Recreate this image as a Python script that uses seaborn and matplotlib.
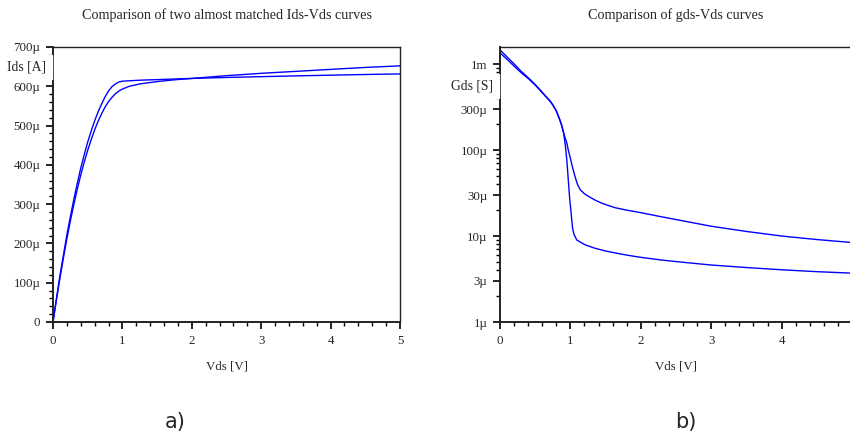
import numpy as np
import pandas as pd
import matplotlib
matplotlib.use("Agg")
import matplotlib.pyplot as plt
import seaborn as sns
from matplotlib.ticker import FixedLocator, MultipleLocator, NullFormatter

# ---- data ----
vds_ids = [0, 0.05, 0.1, 0.15, 0.2, 0.25, 0.3, 0.35, 0.4, 0.45, 0.5, 0.55, 0.6, 0.65,
           0.7, 0.75, 0.8, 0.85, 0.9, 0.95, 1.0, 1.1, 1.25, 1.5, 1.75, 2.0, 2.5,
           3.0, 3.5, 4.0, 4.5, 5.0]
ids_a = [0, 60, 118, 170, 222, 268, 312, 353, 392, 426, 458, 486, 512, 535,
         555, 573, 588, 599, 606, 611, 613, 614, 615.5, 617, 618.5, 620, 622.5,
         624.5, 626.5, 628.3, 630, 631.5]  # uA
ids_b = [0, 57, 112, 163, 212, 257, 299, 338, 374, 407, 437, 464, 489, 511,
         530, 547, 561, 572, 581, 588, 593, 600, 606, 612, 616.5, 620, 627,
         633, 638, 643, 648, 652]  # uA

vds_gds_a = [0, 0.1, 0.21, 0.3, 0.4, 0.5, 0.6, 0.64, 0.7, 0.75, 0.8, 0.85, 0.875,
             0.9, 0.92, 0.935, 0.95, 0.97, 0.99, 1.01, 1.03, 1.05, 1.09, 1.15,
             1.21, 1.35, 1.5, 1.64, 1.8, 2.0, 2.3, 2.6, 3.0, 3.5, 4.0, 4.5, 5.0]
gds_a = [1460, 1210, 985, 825, 695, 578, 470, 430, 382, 336, 285, 224, 195,
         163, 128, 100, 75, 45, 27, 18.5, 12.5, 10.5, 9.0, 8.4,
         7.9, 7.2, 6.7, 6.35, 6.0, 5.65, 5.25, 4.95, 4.6, 4.3, 4.05, 3.85, 3.7]  # uS
vds_gds_b = [0, 0.1, 0.21, 0.3, 0.4, 0.5, 0.6, 0.64, 0.7, 0.75, 0.8, 0.85, 0.875,
             0.9, 0.92, 0.95, 0.97, 1.0, 1.03, 1.06, 1.08, 1.1, 1.14, 1.2, 1.26,
             1.35, 1.42, 1.5, 1.64, 1.8, 2.0, 2.3, 2.6, 3.0, 3.5, 4.0, 4.5, 5.0]
gds_b = [1350, 1135, 930, 795, 680, 570, 465, 428, 380, 335, 285, 224, 195,
         163, 143, 120, 100, 80, 63, 51, 45, 40, 34.5, 31, 28.8,
         26.2, 24.6, 23.2, 21.3, 20.0, 18.7, 16.7, 15.0, 13.0, 11.3, 10.0, 9.1, 8.4]  # uS

ids_ticks = [0, 100, 200, 300, 400, 500, 600, 700]
ids_labels = ["0", "100µ", "200µ", "300µ", "400µ", "500µ", "600µ", "700µ"]
gds_ticks = [1, 3, 10, 30, 100, 300, 1000]
gds_labels = ["1µ", "3µ", "10µ", "30µ", "100µ", "300µ", "1m"]
x_ticks = [0, 1, 2, 3, 4, 5]

# ---- style ----
sns.set_style("ticks")
plt.rcParams["font.family"] = ["Liberation Serif", "DejaVu Serif"]
plt.rcParams["xtick.direction"] = "out"
plt.rcParams["ytick.direction"] = "out"

W, H = 850, 441
fig = plt.figure(figsize=(W / 100, H / 100), dpi=100)

def pos(x0, x1, ytop, ybot):
    return [x0 / W, (H - ybot) / H, (x1 - x0) / W, (ybot - ytop) / H]

axL = fig.add_axes(pos(53, 400, 47, 322))
axR = fig.add_axes(pos(500, 852, 47, 322))

blue = "#0000ff"
dfa = pd.DataFrame({"Vds": vds_ids, "Ids": np.array(ids_a) * 1e-6})
dfb = pd.DataFrame({"Vds": vds_ids, "Ids": np.array(ids_b) * 1e-6})
sns.lineplot(data=dfa, x="Vds", y="Ids", ax=axL, color=blue, lw=1.0, sort=False)
sns.lineplot(data=dfb, x="Vds", y="Ids", ax=axL, color=blue, lw=1.0, sort=False)

dga = pd.DataFrame({"Vds": vds_gds_a, "Gds": np.array(gds_a) * 1e-6})
dgb = pd.DataFrame({"Vds": vds_gds_b, "Gds": np.array(gds_b) * 1e-6})
sns.lineplot(data=dga, x="Vds", y="Gds", ax=axR, color=blue, lw=1.0, sort=False)
sns.lineplot(data=dgb, x="Vds", y="Gds", ax=axR, color=blue, lw=1.0, sort=False)

tick_fs = 9.3
for ax in (axL, axR):
    ax.set_xlim(0, 5)
    ax.set_xticks(x_ticks)
    ax.set_xticklabels([str(t) for t in x_ticks], fontsize=tick_fs)
    ax.xaxis.set_minor_locator(MultipleLocator(0.2))
    ax.tick_params(which="major", length=5, width=1.2, color="black", pad=4)
    ax.tick_params(which="minor", length=3, width=1.0, color="black")
    ax.set_xlabel("Vds [V]", fontsize=9.3, labelpad=10)
    ax.set_ylabel("")
    for s in ax.spines.values():
        s.set_color("#222222")
        s.set_linewidth(1.0)
    ax.spines["left"].set_linewidth(1.4)
    ax.spines["bottom"].set_linewidth(1.4)

# left axes
axL.set_ylim(0, 700e-6)
axL.set_yticks(np.array(ids_ticks) * 1e-6)
axL.set_yticklabels(ids_labels, fontsize=tick_fs)
axL.yaxis.set_minor_locator(MultipleLocator(20e-6))
axL.set_title("Comparison of two almost matched Ids-Vds curves", fontsize=10.2, pad=20)
axL.text(-0.02, 650e-6, "Ids [A]", transform=axL.get_yaxis_transform(),
         ha="right", va="center", fontsize=9.8, backgroundcolor="white")

# right axes
axR.set_yscale("log")
axR.set_ylim(1e-6, 1.58e-3)
axR.yaxis.set_major_locator(FixedLocator(np.array(gds_ticks) * 1e-6))
axR.set_yticklabels(gds_labels, fontsize=tick_fs)
minors = [m * 10.0 ** k for k in range(-6, -2) for m in (2, 4, 5, 6, 7, 8, 9)]
axR.yaxis.set_minor_locator(FixedLocator(minors))
axR.yaxis.set_minor_formatter(NullFormatter())
axR.set_title("Comparison of gds-Vds curves", fontsize=10.2, pad=20)
axR.text(-0.02, 10 ** (-6 + (322 - 86) / 86), "Gds [S]", transform=axR.get_yaxis_transform(),
         ha="right", va="center", fontsize=9.8, backgroundcolor="white")

fig.text(175 / W, 1 - 422 / H, "a)", fontsize=15, family="DejaVu Sans", ha="center", va="center")
fig.text(686 / W, 1 - 422 / H, "b)", fontsize=15, family="DejaVu Sans", ha="center", va="center")

fig.savefig("out.png", dpi=100)
